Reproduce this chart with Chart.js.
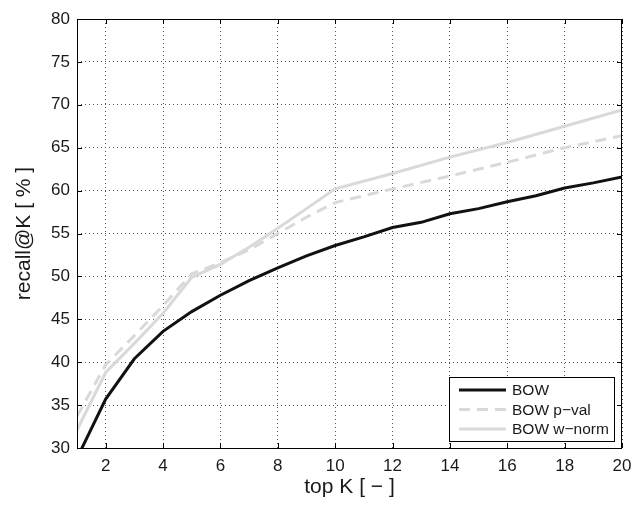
<!DOCTYPE html>
<html>
<head>
<meta charset="utf-8">
<script src="https://cdn.jsdelivr.net/npm/chart.js@4.4.1/dist/chart.umd.min.js"></script>
<style>
  html, body { margin: 0; padding: 0; background: #fff; }
  #wrap { width: 642px; height: 508px; }
</style>
</head>
<body>
<div id="wrap"><canvas id="recallChart" width="642" height="508"></canvas></div>
<script>
const BOW_K = [1, 2, 3, 4, 5, 6, 7, 8, 9, 10, 11, 12, 13, 14, 15, 16, 17, 18, 19, 20];
const BOW_RECALL = [28.8, 35.7, 40.4, 43.6, 45.9, 47.8, 49.5, 51.0, 52.4, 53.6, 54.6, 55.7, 56.3, 57.3, 57.9, 58.7, 59.4, 60.3, 60.9, 61.6];

const PVAL_K = [1, 2, 3, 4, 5, 6, 7, 8, 9, 10, 12, 14, 16, 18, 20];
const PVAL_RECALL = [33.7, 39.7, 43.1, 46.6, 50.3, 51.6, 53.1, 55.0, 56.9, 58.6, 60.2, 61.7, 63.3, 65.0, 66.4];

const WNORM_K = [1, 2, 3, 4, 5, 6, 7, 8, 9, 10, 12, 14, 16, 18, 20];
const WNORM_RECALL = [32.1, 38.8, 42.2, 45.7, 49.9, 51.4, 53.4, 55.6, 57.9, 60.2, 62.0, 63.9, 65.6, 67.5, 69.4];

const SERIES_LABELS = ["BOW", "BOW p\u2212val", "BOW w\u2212norm"];
const X_TICKS = [2, 4, 6, 8, 10, 12, 14, 16, 18, 20];
const Y_TICKS = [30, 35, 40, 45, 50, 55, 60, 65, 70, 75, 80];

const FONT_FAMILY = "'Liberation Sans', Arial, Helvetica, sans-serif";
const TEXT_COLOR = "#1a1a1a";

function toPoints(xs, ys) {
  return xs.map((x, i) => ({ x, y: ys[i] }));
}

// MATLAB-style box with inward ticks, plus the legend inside the axes
const matlabFrame = {
  id: "matlabFrame",
  afterDatasetsDraw(chart) {
    const { ctx, chartArea, scales } = chart;
    const { left, right, top, bottom } = chartArea;
    const tickLen = 5;

    ctx.save();
    ctx.strokeStyle = "#000";
    ctx.lineWidth = 1;
    ctx.setLineDash([]);
    ctx.strokeRect(Math.round(left) + 0.5, Math.round(top) + 0.5,
      Math.round(right - left) - 1, Math.round(bottom - top));

    ctx.beginPath();
    X_TICKS.forEach((v) => {
      const px = Math.round(scales.x.getPixelForValue(v)) + 0.5;
      ctx.moveTo(px, bottom);
      ctx.lineTo(px, bottom - tickLen);
      ctx.moveTo(px, top);
      ctx.lineTo(px, top + tickLen);
    });
    Y_TICKS.forEach((v) => {
      const py = Math.round(scales.y.getPixelForValue(v)) + 0.5;
      ctx.moveTo(left, py);
      ctx.lineTo(left + tickLen, py);
      ctx.moveTo(right, py);
      ctx.lineTo(right - tickLen, py);
    });
    ctx.stroke();

    // legend
    const boxW = 165;
    const boxH = 64;
    const boxX = Math.round(right) - 8 - boxW;
    const boxY = Math.round(bottom) - 7 - boxH;
    ctx.fillStyle = "#fff";
    ctx.fillRect(boxX, boxY, boxW, boxH);
    ctx.strokeStyle = "#000";
    ctx.strokeRect(boxX + 0.5, boxY + 0.5, boxW, boxH);

    ctx.font = `15.5px ${FONT_FAMILY}`;
    ctx.textBaseline = "middle";
    ctx.textAlign = "left";
    chart.data.datasets.forEach((ds, i) => {
      const rowY = boxY + 13 + i * 19.5;
      ctx.beginPath();
      ctx.strokeStyle = ds.borderColor;
      ctx.lineWidth = ds.borderWidth;
      ctx.setLineDash(ds.borderDash || []);
      ctx.moveTo(boxX + 10, rowY);
      ctx.lineTo(boxX + 57, rowY);
      ctx.stroke();
      ctx.fillStyle = TEXT_COLOR;
      ctx.fillText(ds.label, boxX + 63, rowY + 1);
    });
    ctx.restore();
  },
};

new Chart(document.getElementById("recallChart"), {
  type: "line",
  data: {
    datasets: [
      {
        label: SERIES_LABELS[0],
        data: toPoints(BOW_K, BOW_RECALL),
        borderColor: "#111111",
        borderWidth: 3,
      },
      {
        label: SERIES_LABELS[1],
        data: toPoints(PVAL_K, PVAL_RECALL),
        borderColor: "#d9d9d9",
        borderWidth: 3,
        borderDash: [11, 7],
      },
      {
        label: SERIES_LABELS[2],
        data: toPoints(WNORM_K, WNORM_RECALL),
        borderColor: "#d9d9d9",
        borderWidth: 3,
      },
    ],
  },
  options: {
    responsive: false,
    animation: false,
    devicePixelRatio: 1,
    parsing: false,
    elements: {
      point: { radius: 0, hoverRadius: 0 },
      line: { tension: 0, fill: false, borderCapStyle: "butt" },
    },
    layout: { padding: { top: 19, right: 20, left: 0, bottom: 0 } },
    plugins: {
      legend: { display: false },
      tooltip: { enabled: false },
    },
    scales: {
      x: {
        type: "linear",
        min: 1,
        max: 20,
        afterBuildTicks(scale) {
          scale.ticks = X_TICKS.map((value) => ({ value }));
        },
        afterFit(scale) {
          scale.height = 60;
        },
        grid: { color: "#555", lineWidth: 1, drawTicks: false },
        border: { display: false, dash: [1, 3] },
        ticks: {
          padding: 8,
          color: TEXT_COLOR,
          font: { family: FONT_FAMILY, size: 17 },
          maxRotation: 0,
        },
        title: {
          display: true,
          text: "top K [ \u2212 ]",
          color: TEXT_COLOR,
          font: { family: FONT_FAMILY, size: 21 },
          padding: { top: 0, bottom: 8 },
        },
      },
      y: {
        min: 30,
        max: 80,
        afterBuildTicks(scale) {
          scale.ticks = Y_TICKS.map((value) => ({ value }));
        },
        afterFit(scale) {
          scale.width = 77;
        },
        grid: { color: "#555", lineWidth: 1, drawTicks: false },
        border: { display: false, dash: [1, 3] },
        ticks: {
          padding: 7,
          color: TEXT_COLOR,
          font: { family: FONT_FAMILY, size: 17 },
        },
        title: {
          display: true,
          text: "recall@K [ % ]",
          color: TEXT_COLOR,
          font: { family: FONT_FAMILY, size: 21 },
          padding: { top: 12, bottom: 0 },
        },
      },
    },
  },
  plugins: [matlabFrame],
});
</script>
</body>
</html>
